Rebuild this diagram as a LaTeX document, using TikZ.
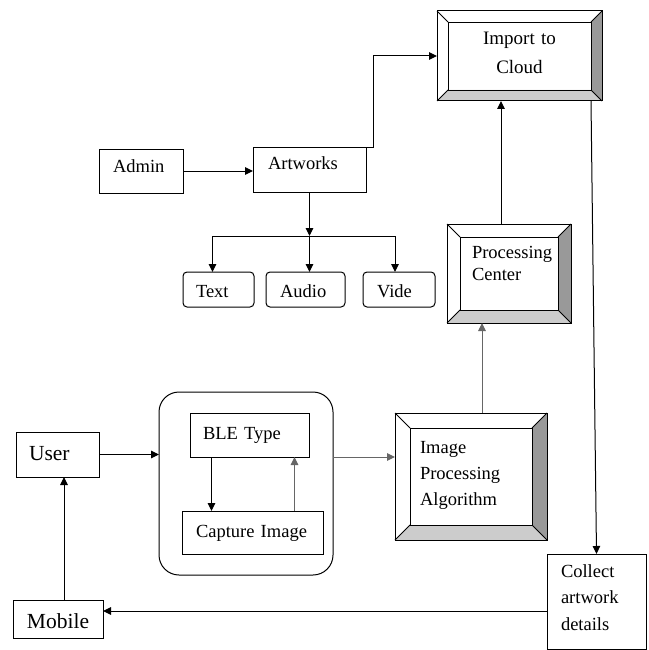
\documentclass[tikz,border=0pt]{standalone}
\usepackage{fontspec}
\setmainfont{Liberation Serif}
\usetikzlibrary{calc,arrows.meta}

\newcommand\bevel[2]{%
  \fill[black!40] (#1.north east) -- (#1.south east) -- ($(#1.south east)+(-#2,-#2)$) -- ($(#1.north east)+(-#2,#2)$) -- cycle;
  \fill[black!20] (#1.south west) -- (#1.south east) -- ($(#1.south east)+(-#2,-#2)$) -- ($(#1.south west)+(#2,-#2)$) -- cycle;
  \draw[line width=0.8pt] (#1.north west) -- ($(#1.north west)+(#2,#2)$) (#1.north east) -- ($(#1.north east)+(-#2,#2)$)
    (#1.south east) -- ($(#1.south east)+(-#2,-#2)$) (#1.south west) -- ($(#1.south west)+(#2,-#2)$);
  \draw[line width=0.8pt] ($(#1.north west)+(#2,#2)$) rectangle ($(#1.south east)+(-#2,-#2)$);
  \draw (#1.north west) rectangle (#1.south east);}

\begin{document}
\begin{tikzpicture}[x=1pt,y=-1pt,line width=1pt,>={Triangle[length=8pt,width=7.5pt]},
  box/.style={draw,anchor=north west,outer sep=0pt,inner ysep=0pt,align=left,font=\fontsize{18.5}{26}\selectfont},
  soft/.style={box,rounded corners=4pt},
  big/.style={box,font=\fontsize{21.5}{26}\selectfont},
  faint/.style={draw=black!60}]
\useasboundingbox (0,0) rectangle (648,650);
\node[box,inner xsep=14,text width=56,text height=23,text depth=21] (admin) at (99,149) {Admin};
\node[box,inner xsep=15,text width=83,text height=22,text depth=23] (artworks) at (253,147) {Artworks};
\node[soft,inner xsep=13,text width=45,text height=25,text depth=10] (txt) at (183,272) {Text};
\node[soft,inner xsep=14,text width=51,text height=25,text depth=10] (audio) at (266,272) {Audio};
\node[soft,inner xsep=14,text width=44,text height=25,text depth=10] (video) at (363,272) {Vide};
\node[box,inner xsep=11,text width=143,align=center,text height=34,text depth=56,font=\fontsize{19}{29}\selectfont] (cloud) at (437,11) {Import to\\Cloud};
\node[box,inner xsep=25,text width=74,text height=34,text depth=65,font=\fontsize{18.5}{22}\selectfont] (proc) at (447,224) {Processing\\Center};
\node[box,inner xsep=25,text width=102,text height=40,text depth=87] (algo) at (395,413) {Image\\Processing\\Algorithm};
\node[box,inner xsep=14,text width=71,text height=23,text depth=72,font=\fontsize{18.5}{26.5}\selectfont] (collect) at (547,554) {Collect\\artwork\\details};
\node[big,inner xsep=13,text width=57,text height=28,text depth=17] (user) at (16,432) {User};
\node[big,inner xsep=14,text width=62,text height=28,text depth=10] (mobile) at (13,600) {Mobile};
\node[draw,anchor=north west,outer sep=0pt,rounded corners=20pt,minimum width=174,minimum height=183] (phone) at (159,392) {};
\node[box,inner xsep=13,text width=93,text height=26,text depth=18] (ble) at (190,413) {BLE Type};
\node[box,inner xsep=14,text width=113,text height=26,text depth=17] (capture) at (182,511) {Capture Image};
\bevel{cloud}{11}
\bevel{proc}{13}
\bevel{algo}{15}
\draw[->] (admin.east) -- (admin.east -| artworks.west);
\draw[->] (artworks.north east) -- ++(7,0) |- (cloud.west);
\draw[->] (artworks.south) -- ++(0,44) coordinate (split);
\draw[->] (split) -- (split |- audio.north);
\draw[->] (split) -| ([xshift=-6]txt.north);
\draw[->] (split) -| ([xshift=-4]video.north);
\draw[->] ([xshift=-8]proc.north) -- ([xshift=-8]proc.north |- cloud.south);
\draw[->,faint] ([xshift=11]algo.north) -- ([xshift=11]algo.north |- proc.south);
\draw[->] ([xshift=-11]cloud.south east) -- (collect.north);
\draw[->] ([yshift=-9.5]collect.west) -- ([yshift=-9.5]collect.west -| mobile.east);
\draw[->] ([xshift=6]mobile.north) -- ([xshift=6]mobile.north |- user.south);
\draw[->] (user.east) -- (user.east -| phone.west);
\draw[->,faint] (phone.east |- ble.south) -- (algo.west |- ble.south);
\draw[->] ([xshift=-38]ble.south) -- ([xshift=-38]ble.south |- capture.north);
\draw[->,faint] ([xshift=42]capture.north) -- ([xshift=42]capture.north |- ble.south);
\end{tikzpicture}
\end{document}
